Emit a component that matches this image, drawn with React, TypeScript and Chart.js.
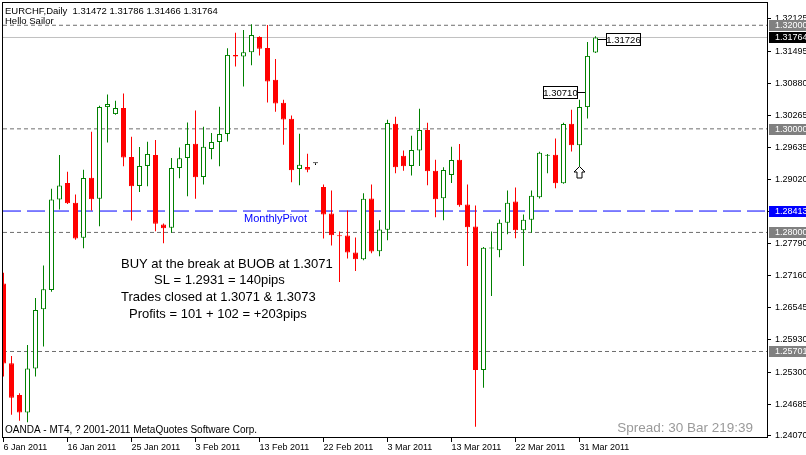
import React, { useEffect, useRef } from 'react';
import { Chart, registerables } from 'chart.js';

Chart.register(...registerables);

// ---------- data (EURCHF daily, bar index 0 = 6 Jan 2011) ----------
const opens = [
  1.27016, 1.25475, 1.24859, 1.24525, 1.25373, 1.26515, 1.26887, 1.28635, 1.28956, 1.28571,
  1.27897, 1.29058, 1.28648, 1.30420, 1.30285, 1.30401, 1.29457, 1.28898, 1.29284, 1.29496,
  1.28153, 1.28089, 1.29245, 1.29438, 1.29713, 1.29072, 1.29611, 1.29746, 1.29900, 1.31428,
  1.31395, 1.31480, 1.31775, 1.31563, 1.30946, 1.30503, 1.30195, 1.29226, 1.29264, 1.29334,
  1.28879, 1.28365, 1.27935, 1.27941, 1.27614, 1.27484, 1.28654, 1.27639, 1.28051, 1.30099,
  1.29482, 1.29284, 1.29584, 1.29977, 1.29193, 1.28660, 1.29110, 1.29405, 1.28538, 1.28114,
  1.25346, 1.27691, 1.27658, 1.28186, 1.28596, 1.28043, 1.28244, 1.28679, 1.29482, 1.29501,
  1.28949, 1.30099, 1.29681, 1.30420, 1.31472,
];
const highs = [
  1.27223, 1.25616, 1.24897, 1.25828, 1.26733, 1.27363, 1.28841, 1.29496, 1.29174, 1.28731,
  1.29212, 1.29945, 1.30445, 1.30663, 1.30542, 1.30682, 1.29848, 1.29650, 1.29752, 1.29785,
  1.28172, 1.29438, 1.29642, 1.30124, 1.30355, 1.30041, 1.29919, 1.30426, 1.31557, 1.31857,
  1.31909, 1.32019, 1.31790, 1.32006, 1.31351, 1.30561, 1.30259, 1.29906, 1.29521, 1.29334,
  1.28924, 1.28808, 1.28018, 1.28423, 1.27903, 1.28756, 1.28924, 1.28236, 1.30176, 1.30233,
  1.29584, 1.29867, 1.30388, 1.30118, 1.29405, 1.29257, 1.29656, 1.29708, 1.28924, 1.28519,
  1.27720, 1.28018, 1.28249, 1.28808, 1.28866, 1.28346, 1.28808, 1.29559, 1.29515, 1.29815,
  1.30118, 1.30368, 1.30561, 1.31678, 1.31786,
];
const lows = [
  1.25219, 1.24479, 1.24364, 1.24333, 1.25219, 1.25797, 1.26856, 1.28442, 1.28550, 1.27858,
  1.27696, 1.28423, 1.28120, 1.29738, 1.30270, 1.29276, 1.28230, 1.28783, 1.28891, 1.28024,
  1.27793, 1.27993, 1.29045, 1.28698, 1.28648, 1.28924, 1.29411, 1.29276, 1.29758, 1.31202,
  1.30817, 1.31229, 1.31414, 1.30509, 1.30330, 1.29694, 1.28968, 1.28910, 1.29160, 1.29303,
  1.27883, 1.27748, 1.27041, 1.27498, 1.27253, 1.27465, 1.27600, 1.27542, 1.27851, 1.29141,
  1.29193, 1.29097, 1.29284, 1.28910, 1.28294, 1.28236, 1.28956, 1.28494, 1.27350, 1.24248,
  1.24999, 1.26772, 1.27523, 1.27966, 1.27889, 1.27350, 1.27993, 1.28654, 1.29141, 1.28852,
  1.28940, 1.29565, 1.29276, 1.30201, 1.31466,
];
const closes = [
  1.25469, 1.24807, 1.24525, 1.25373, 1.26502, 1.26901, 1.28635, 1.28904, 1.28563, 1.27883,
  1.29053, 1.28640, 1.30420, 1.30478, 1.30401, 1.29449, 1.28891, 1.29284, 1.29515, 1.28166,
  1.28082, 1.29245, 1.29430, 1.29708, 1.29064, 1.29656, 1.29746, 1.29900, 1.31428, 1.31395,
  1.31480, 1.31813, 1.31549, 1.30913, 1.30490, 1.30181, 1.29199, 1.29309, 1.29212, 1.29334,
  1.28346, 1.27947, 1.27925, 1.27614, 1.27484, 1.28648, 1.27633, 1.28057, 1.30112, 1.29257,
  1.29276, 1.29592, 1.29977, 1.29180, 1.28640, 1.29207, 1.29399, 1.28525, 1.28101, 1.25346,
  1.27704, 1.27710, 1.28186, 1.28571, 1.28043, 1.28244, 1.28706, 1.29540, 1.29496, 1.28949,
  1.30093, 1.29681, 1.30420, 1.31409, 1.31764,
];

const dateTickBars = [0, 8, 16, 24, 32, 40, 48, 56, 64, 72];
const dateTickLabels = [
  '6 Jan 2011', '16 Jan 2011', '25 Jan 2011', '3 Feb 2011', '13 Feb 2011',
  '22 Feb 2011', '3 Mar 2011', '13 Mar 2011', '22 Mar 2011', '31 Mar 2011',
];
const priceTicks = [
  1.32125, 1.31495, 1.3088, 1.30265, 1.29635, 1.2902, 1.28405,
  1.2779, 1.2716, 1.26545, 1.2593, 1.253, 1.24685, 1.2407,
];

const dottedLevels = [1.32, 1.3, 1.28, 1.25701];
const bidLevel = 1.31764;
const pivotLevel = 1.28413;
const pivotName = 'MonthlyPivot';

const tagValues = [1.32, 1.31764, 1.3, 1.28413, 1.28, 1.25701];
const tagColors = ['#808080', '#000000', '#808080', '#0000ff', '#808080', '#808080'];

const priceLabelBars = [73, 74];
const priceLabelValues = [1.3071, 1.31726];
const arrowBar = 72;

const headerLines = ['EURCHF,Daily  1.31472 1.31786 1.31466 1.31764', 'Hello Sailor'];
const noteLines = [
  'BUY at the break at BUOB at 1.3071',
  'SL = 1.2931 = 140pips',
  'Trades closed at 1.3071 & 1.3073',
  'Profits = 101 + 102 = +203pips',
];
const copyrightText = 'OANDA - MT4, ? 2001-2011 MetaQuotes Software Corp.';
const spreadText = 'Spread: 30 Bar 219:39';

// ---------- layout / style ----------
const X_MIN = -0.0625;
const X_MAX = 95.4375;
const Y_MIN = 1.2405;
const Y_MAX = 1.3243;
const GREEN = '#008000';
const RED = '#ff0000';
const SMALL = '"Liberation Sans", Arial, sans-serif';

const lineColor = (i: number) =>
  closes[i] > opens[i] ? GREEN : closes[i] < opens[i] ? RED : '#000000';

const overlayPlugin = {
  id: 'mt4Overlay',
  afterDraw(chart: any) {
    const { ctx, chartArea: a, scales } = chart;
    const x = scales.x;
    const y = scales.y;
    ctx.save();

    // frame
    ctx.strokeStyle = '#000';
    ctx.lineWidth = 1;
    ctx.setLineDash([]);
    ctx.strokeRect(a.left - 0.5, a.top - 0.5, a.right - a.left + 1, a.bottom - a.top + 1);

    // header
    ctx.fillStyle = '#000';
    ctx.textBaseline = 'middle';
    ctx.textAlign = 'left';
    ctx.font = `9.5px ${SMALL}`;
    ctx.fillText(headerLines[0], 5, 11);
    ctx.fillText(headerLines[1], 5, 21);
    ctx.font = `10px ${SMALL}`;
    ctx.fillText(copyrightText, 5, 430);

    // trade notes
    ctx.font = '13px "Liberation Sans", Arial, sans-serif';
    const noteX = [121, 154, 121, 129];
    const noteY = [264, 280.5, 297.5, 314];
    noteLines.forEach((t, i) => ctx.fillText(t, noteX[i], noteY[i]));

    // spread
    ctx.fillStyle = '#9a9a9a';
    ctx.textAlign = 'right';
    ctx.font = '13.5px "Liberation Sans", Arial, sans-serif';
    ctx.fillText(spreadText, 753, 428);

    // pivot name
    ctx.fillStyle = '#0000ff';
    ctx.textAlign = 'left';
    ctx.font = `11px ${SMALL}`;
    ctx.fillText(pivotName, 244, y.getPixelForValue(pivotLevel) + 8);

    // price labels near candles
    ctx.font = `9.5px ${SMALL}`;
    priceLabelBars.forEach((b, i) => {
      const cx = x.getPixelForValue(b);
      const py = Math.round(y.getPixelForValue(priceLabelValues[i])) + 0.5;
      const text = priceLabelValues[i].toFixed(5);
      const w = 34;
      const bx = i === 0 ? cx - 11 - w : cx + 10.5;
      const lx0 = i === 0 ? bx + w : cx + 2.5;
      const lx1 = i === 0 ? cx - 2.5 : bx;
      ctx.strokeStyle = '#000';
      ctx.beginPath();
      ctx.moveTo(lx0, py);
      ctx.lineTo(lx1, py);
      ctx.stroke();
      ctx.fillStyle = '#fff';
      ctx.fillRect(Math.round(bx) + 0.5, py - 6, w, 12);
      ctx.strokeRect(Math.round(bx) + 0.5, py - 6, w, 12);
      ctx.fillStyle = '#000';
      ctx.textAlign = 'center';
      ctx.fillText(text, Math.round(bx) + 0.5 + w / 2, py + 0.5);
    });

    // up arrow under the signal bar
    {
      const cx = x.getPixelForValue(arrowBar);
      const t = Math.round(y.getPixelForValue(lows[arrowBar])) + 0.5;
      ctx.beginPath();
      ctx.moveTo(cx, t);
      ctx.lineTo(cx + 5.5, t + 5.5);
      ctx.lineTo(cx + 2.5, t + 5.5);
      ctx.lineTo(cx + 2.5, t + 11.5);
      ctx.lineTo(cx - 2.5, t + 11.5);
      ctx.lineTo(cx - 2.5, t + 5.5);
      ctx.lineTo(cx - 5.5, t + 5.5);
      ctx.closePath();
      ctx.fillStyle = '#fff';
      ctx.fill();
      ctx.strokeStyle = '#000';
      ctx.stroke();
    }

    // price tags on the axis
    ctx.textAlign = 'left';
    ctx.font = `9px ${SMALL}`;
    tagValues.forEach((v, i) => {
      const py = Math.round(y.getPixelForValue(v));
      ctx.fillStyle = tagColors[i];
      ctx.fillRect(a.right + 2, py - 5, 806 - a.right - 2, 11);
      ctx.fillStyle = '#fff';
      ctx.fillText(v.toFixed(5), a.right + 8, py + 0.5);
    });

    ctx.restore();
  },
};

export default function App() {
  const ref = useRef<HTMLCanvasElement | null>(null);

  useEffect(() => {
    if (!ref.current) return;
    const idx = opens.map((_, i) => i);
    const hLine = (v: number, color: string, dash: number[], order: number) => ({
      type: 'line' as const,
      data: [
        { x: X_MIN, y: v },
        { x: X_MAX, y: v },
      ],
      borderColor: color,
      borderWidth: 1,
      borderDash: dash,
      pointRadius: 0,
      fill: false,
      order,
    });

    const chart = new Chart(ref.current, {
      type: 'bar',
      data: {
        datasets: [
          {
            type: 'bar',
            label: 'body',
            data: idx.map((i) => ({ x: i, y: [opens[i], closes[i]] })) as any,
            backgroundColor: idx.map((i) => (closes[i] > opens[i] ? '#ffffff' : lineColor(i))),
            borderColor: idx.map(lineColor),
            borderWidth: 1,
            borderSkipped: false,
            barThickness: 5,
            grouped: false,
            minBarLength: 1,
            inflateAmount: 0,
            order: 0,
          } as any,
          {
            type: 'bar',
            label: 'wick',
            data: idx.map((i) => ({ x: i, y: [lows[i], highs[i]] })) as any,
            backgroundColor: idx.map(lineColor),
            borderWidth: 0,
            barThickness: 1,
            grouped: false,
            inflateAmount: 0,
            order: 1,
          } as any,
          ...dottedLevels.map((v) => hLine(v, '#6e6e6e', [4, 3], 10)),
          hLine(bidLevel, '#c0c0c0', [], 11),
          hLine(pivotLevel, '#0000ff', [18, 6], 12),
        ] as any,
      },
      options: {
        animation: false,
        responsive: false,
        devicePixelRatio: 1,
        events: [],
        layout: { padding: { left: 3, top: 3, right: 0, bottom: 0 } },
        plugins: { legend: { display: false }, tooltip: { enabled: false } },
        scales: {
          x: {
            type: 'linear',
            min: X_MIN,
            max: X_MAX,
            offset: false,
            position: 'bottom',
            grid: { drawOnChartArea: false, drawTicks: true, tickLength: 5, color: '#000', offset: false },
            border: { display: false },
            ticks: {
              align: 'start',
              autoSkip: false,
              maxRotation: 0,
              minRotation: 0,
              padding: 0,
              color: '#000',
              font: { family: SMALL, size: 9 },
              callback: (_v: any, i: number) => dateTickLabels[i],
            },
            afterBuildTicks: (s: any) => {
              s.ticks = dateTickBars.map((v) => ({ value: v }));
            },
            afterFit: (s: any) => {
              s.height = 18;
              s.paddingLeft = 0;
              s.paddingRight = 0;
            },
          } as any,
          y: {
            type: 'linear',
            position: 'right',
            min: Y_MIN,
            max: Y_MAX,
            grid: { drawOnChartArea: false, drawTicks: true, tickLength: 4, color: '#000' },
            border: { display: false },
            ticks: {
              autoSkip: false,
              padding: 4,
              color: '#000',
              font: { family: SMALL, size: 9 },
              callback: (v: any) => Number(v).toFixed(5),
            },
            afterBuildTicks: (s: any) => {
              s.ticks = priceTicks.map((v) => ({ value: v }));
            },
            afterFit: (s: any) => {
              s.width = 39;
              s.paddingTop = 0;
              s.paddingBottom = 0;
            },
          } as any,
        },
      },
      plugins: [overlayPlugin],
    });
    return () => chart.destroy();
  }, []);

  return (
    <div style={{ position: 'fixed', left: 0, top: 0, width: 806, height: 455, background: '#fff' }}>
      <canvas ref={ref} width={806} height={455} style={{ display: 'block' }} />
    </div>
  );
}
